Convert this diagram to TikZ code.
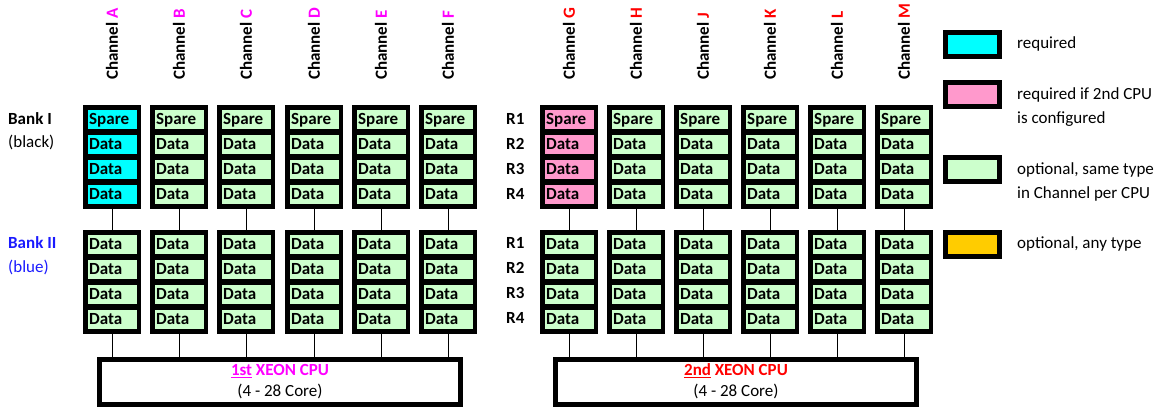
\documentclass[tikz,border=0pt]{standalone}
\usepackage{fontspec}
\setmainfont{Carlito}
\definecolor{reqA}{HTML}{00FFFF}
\definecolor{reqB}{HTML}{FF99CC}
\definecolor{opt}{HTML}{CCFFCC}
\definecolor{anyt}{HTML}{FFCC00}
\definecolor{labA}{HTML}{FF00FF}
\definecolor{labB}{HTML}{FF0000}
\definecolor{bankblue}{HTML}{1A1AFF}
\tikzset{
  frame/.style={fill=black, draw=none, minimum width=58pt, minimum height=104pt, inner sep=0pt, anchor=north west},
  cell/.style={anchor=north west, minimum width=49pt, minimum height=19pt, text width=47pt, inner xsep=1pt, inner ysep=0pt, text height=12pt, text depth=3pt, align=left, font=\bfseries\fontsize{17}{20}\selectfont},
  chlabel/.style={rotate=90, anchor=west, inner sep=0pt, font=\bfseries\fontsize{17}{20}\selectfont},
  conn/.style={draw=black, line width=1.3pt},
  cpu/.style={draw=black, line width=5pt, fill=white, minimum width=361pt, minimum height=45pt, align=center, font=\fontsize{17}{21}\selectfont},
  legbox/.style={draw=black, line width=5pt, minimum width=54pt, minimum height=24pt, inner sep=0pt},
  txt/.style={anchor=base west, inner sep=0pt, font=\fontsize{17}{20}\selectfont},
  btxt/.style={anchor=base west, inner sep=0pt, font=\bfseries\fontsize{17}{20}\selectfont}
}
\begin{document}
\begin{tikzpicture}[x=1pt,y=-1pt]
\useasboundingbox (0,0) rectangle (1159,410);
% CPUs
\node[cpu] (cpu1) at (280,381.5) {\textbf{\textcolor{labA}{\underline{1st} XEON CPU}}\\(4 - 28 Core)};
\node[cpu] (cpu2) at (736,381.5) {\textbf{\textcolor{labB}{\underline{2nd} XEON CPU}}\\(4 - 28 Core)};
% channels
\foreach \n/\x/\lc/\fc/\cp in {A/83/labA/reqA/cpu1, B/150/labA/opt/cpu1, C/217/labA/opt/cpu1, D/285/labA/opt/cpu1, E/352/labA/opt/cpu1, F/419/labA/opt/cpu1, G/540/labB/reqB/cpu2, H/607/labB/opt/cpu2, J/674/labB/opt/cpu2, K/741/labB/opt/cpu2, L/808/labB/opt/cpu2, M/875/labB/opt/cpu2}{
  \node[frame] (f1\n) at (\x,105) {};
  \node[frame] (f2\n) at (\x,230) {};
  \node[cell, fill=\fc] (c1\n1) at (\x+5,110) {Spare};
  \foreach \r in {2,3,4} \node[cell, fill=\fc] (c1\n\r) at (\x+5,{110+25*(\r-1)}) {Data};
  \foreach \r in {1,...,4} \node[cell, fill=opt] (c2\n\r) at (\x+5,{235+25*(\r-1)}) {Data};
  \node[chlabel] (ch\n) at (\x+29,80) {Channel \textcolor{\lc}{\n}};
  \draw[conn] (f1\n.south) -- (f2\n.north);
  \draw[conn] (f2\n.south) -- (f2\n.south |- \cp.north);
}
% bank labels
\node[btxt] (bk1) at (8,124) {Bank I};
\node[txt] (bk1b) at (8,147) {(black)};
\node[btxt, text=bankblue] (bk2) at (8,248) {Bank II};
\node[txt, text=bankblue] (bk2b) at (8,272) {(blue)};
% rank labels
\foreach \r in {1,...,4}{
  \node[btxt] (ra\r) at (506,{124+25*(\r-1)}) {R\r};
  \node[btxt] (rb\r) at (506,{248+25*(\r-1)}) {R\r};
}
% legend
\node[legbox, fill=reqA] (lg1) at (972.5,44.5) {};
\node[legbox, fill=reqB] (lg2) at (972.5,94.5) {};
\node[legbox, fill=opt] (lg3) at (972.5,169.5) {};
\node[legbox, fill=anyt] (lg4) at (972.5,244.5) {};
\node[txt] (lt1) at (1017,48) {required};
\node[txt] (lt2a) at (1017,99) {required if 2nd CPU};
\node[txt] (lt2b) at (1017,123) {is configured};
\node[txt] (lt3a) at (1017,174) {optional, same type};
\node[txt] (lt3b) at (1017,198) {in Channel per CPU};
\node[txt] (lt4) at (1017,248) {optional, any type};
\end{tikzpicture}
\end{document}
